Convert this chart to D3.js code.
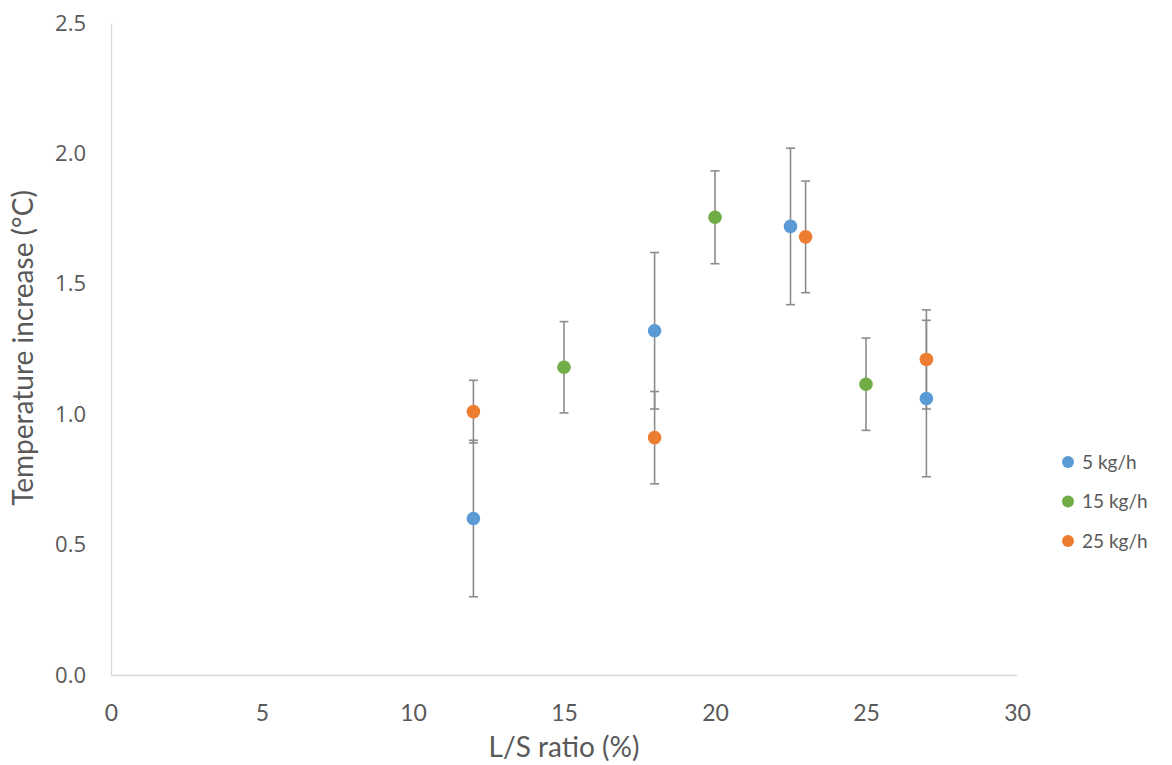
<!DOCTYPE html>
<html>
<head>
<meta charset="utf-8">
<script src="https://cdn.jsdelivr.net/npm/d3@7"></script>
<style>
  html, body { margin: 0; padding: 0; background: #fff; }
  svg { display: block; }
</style>
</head>
<body>
<svg id="chart" width="1172" height="765"></svg>
<script>
// Series: L/S ratio (%), mean temperature increase (°C), standard deviation
const seriesNames = ["5 kg/h", "15 kg/h", "25 kg/h"];
const seriesColors = ["#5B9BD5", "#70AD47", "#ED7D31"];

const ratio5 = [12, 18, 22.5, 27];
const temp5 = [0.60, 1.32, 1.72, 1.06];
const err5 = [0.30, 0.30, 0.30, 0.30];

const ratio15 = [15, 20, 25];
const temp15 = [1.18, 1.755, 1.115];
const err15 = [0.175, 0.178, 0.177];

const ratio25 = [12, 18, 23, 27];
const temp25 = [1.01, 0.91, 1.68, 1.21];
const err25 = [0.12, 0.177, 0.214, 0.19];

const xTicks = [0, 5, 10, 15, 20, 25, 30];
const yTicks = [0, 0.5, 1.0, 1.5, 2.0, 2.5];

const series = [
  { name: seriesNames[0], color: seriesColors[0], pts: ratio5.map((x, i) => ({ x, y: temp5[i], e: err5[i] })) },
  { name: seriesNames[1], color: seriesColors[1], pts: ratio15.map((x, i) => ({ x, y: temp15[i], e: err15[i] })) },
  { name: seriesNames[2], color: seriesColors[2], pts: ratio25.map((x, i) => ({ x, y: temp25[i], e: err25[i] })) }
];

const svg = d3.select("#chart");
const plotLeft = 111, plotRight = 1017, plotTop = 23, plotBottom = 675;

const x = d3.scaleLinear().domain([0, 30]).range([plotLeft, plotRight]);
const y = d3.scaleLinear().domain([0, 2.5]).range([plotBottom, plotTop]);

const axisColor = "#d9d9d9";
const textColor = "#595959";

// Axes (lines only, no tick marks)
const xAxis = svg.append("g")
  .attr("transform", `translate(0,${plotBottom})`)
  .call(d3.axisBottom(x).tickValues(xTicks).tickSize(0).tickPadding(30).tickFormat(d3.format("d")));
xAxis.select(".domain").attr("stroke", axisColor).attr("stroke-width", 1.3);
xAxis.selectAll("text")
  .attr("fill", textColor)
  .style("font-family", "Lato, 'Liberation Sans', sans-serif")
  .style("font-size", "23px");

const yAxis = svg.append("g")
  .attr("transform", `translate(${plotLeft},0)`)
  .call(d3.axisLeft(y).tickValues(yTicks).tickSize(0).tickPadding(25).tickFormat(d3.format(".1f")));
yAxis.select(".domain").attr("stroke", axisColor).attr("stroke-width", 1.3);
yAxis.selectAll("text")
  .attr("fill", textColor)
  .style("font-family", "'Open Sans', sans-serif")
  .style("font-size", "22px");

// Axis titles
svg.append("text")
  .attr("x", (plotLeft + plotRight) / 2)
  .attr("y", 757)
  .attr("text-anchor", "middle")
  .attr("fill", textColor)
  .style("font-family", "Lato, 'Liberation Sans', sans-serif")
  .style("font-size", "28px")
  .text("L/S ratio (%)");

svg.append("text")
  .attr("transform", `translate(33,348) rotate(-90)`)
  .attr("text-anchor", "middle")
  .attr("fill", textColor)
  .style("font-family", "Lato, 'Liberation Sans', sans-serif")
  .style("font-size", "28px")
  .text("Temperature increase (°C)");

// Error bars
const errColor = "#8c8c8c";
const capHalf = 4.5;
const errG = svg.append("g");
series.forEach(s => {
  s.pts.forEach(p => {
    const cx = x(p.x);
    const g = errG.append("g").attr("stroke", errColor).attr("stroke-width", 1.6);
    g.append("line").attr("x1", cx).attr("x2", cx).attr("y1", y(p.y + p.e)).attr("y2", y(p.y - p.e));
    g.append("line").attr("x1", cx - capHalf).attr("x2", cx + capHalf).attr("y1", y(p.y + p.e)).attr("y2", y(p.y + p.e));
    g.append("line").attr("x1", cx - capHalf).attr("x2", cx + capHalf).attr("y1", y(p.y - p.e)).attr("y2", y(p.y - p.e));
  });
});

// Markers
series.forEach(s => {
  svg.append("g").selectAll("circle")
    .data(s.pts)
    .join("circle")
    .attr("cx", d => x(d.x))
    .attr("cy", d => y(d.y))
    .attr("r", 6.8)
    .attr("fill", s.color);
});

// Legend
const legend = svg.append("g").attr("transform", "translate(1068,462)");
series.forEach((s, i) => {
  const row = legend.append("g").attr("transform", `translate(0,${i * 39.5})`);
  row.append("circle").attr("r", 6).attr("fill", s.color);
  row.append("text")
    .attr("x", 14)
    .attr("dy", "0.35em")
    .attr("fill", textColor)
    .style("font-family", "Lato, 'Liberation Sans', sans-serif")
    .style("font-size", "19px")
    .text(s.name);
});
</script>
</body>
</html>
